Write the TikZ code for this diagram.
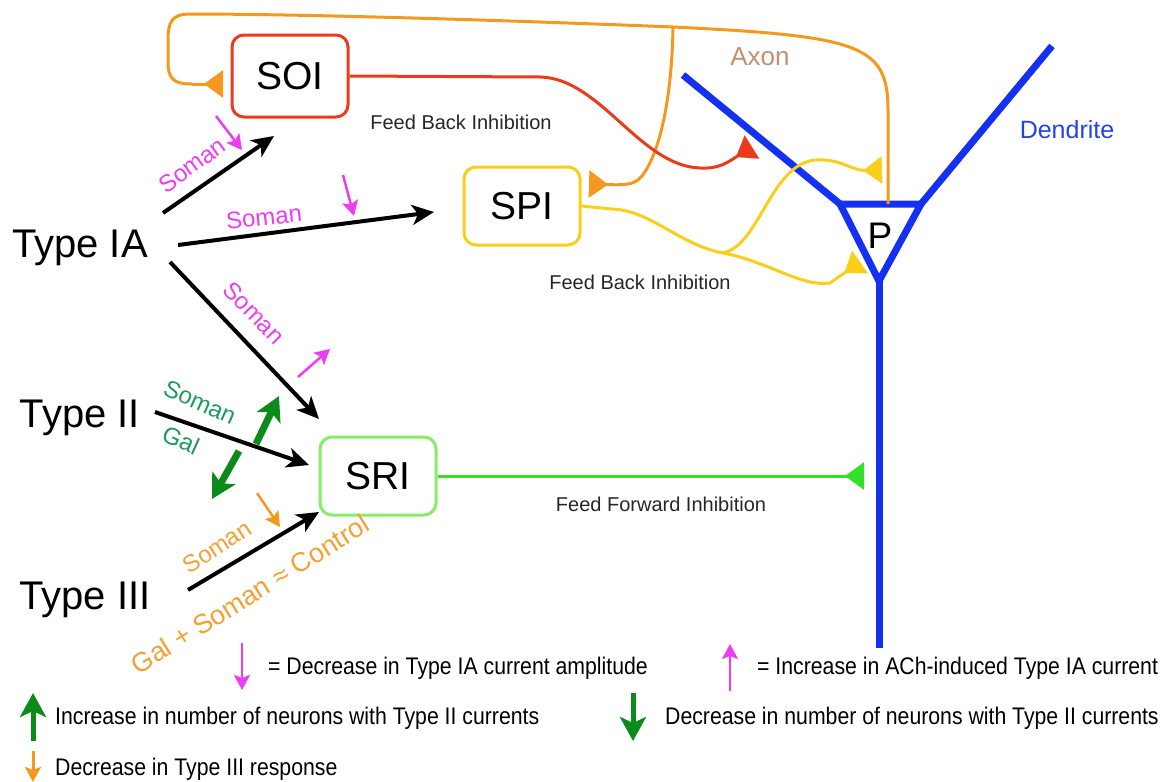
\documentclass[tikz,border=0pt]{standalone}
\usepackage{fontspec}
\setmainfont{Liberation Sans}
\newfontfamily\narrowfont[FakeStretch=0.885]{Liberation Sans}
\usetikzlibrary{arrows.meta}
\definecolor{cred}{HTML}{EB3A1C}
\definecolor{corange}{HTML}{F4981E}
\definecolor{cyellow}{HTML}{F9CF1A}
\definecolor{cgreenline}{HTML}{33E02A}
\definecolor{csrib}{HTML}{86EE64}
\definecolor{cblue}{HTML}{1430F0}
\definecolor{cpink}{HTML}{F03CF0}
\definecolor{cdgreen}{HTML}{0C8A1A}
\definecolor{ctgreen}{HTML}{1E9A5C}
\definecolor{cotext}{HTML}{F5A035}
\definecolor{caxon}{HTML}{C09070}
\definecolor{cdend}{HTML}{2244E6}
\begin{document}
\begin{tikzpicture}[x=1pt,y=-1pt,
  cellbox/.style={draw,line width=3pt,rounded corners=12pt,fill=white,inner sep=0pt},
  bigtext/.style={font=\fontsize{40}{44}\selectfont},
  boxtext/.style={font=\fontsize{39}{44}\selectfont},
  blackarrow/.style={line width=4pt,-{Stealth[length=22pt,width=20pt,inset=6pt]}},
  pinkarrow/.style={cpink,line width=2.5pt,-{Stealth[length=15pt,width=16pt,inset=3pt]}},
  orangearrow/.style={corange,line width=2.5pt,-{Stealth[length=15pt,width=16pt,inset=3pt]}},
  greenarrow/.style={cdgreen,line width=7pt,-{Stealth[length=24pt,width=26pt,inset=6pt]}},
  inhib/.style={line width=3pt,-{Triangle[reversed,length=19pt,width=27pt]}},
  dend/.style={cblue,line width=7pt},
  lbl/.style={font=\fontsize{24}{28}\selectfont},
  fb/.style={font=\fontsize{20}{24}\selectfont,text=black!85},
  leg/.style={font=\narrowfont\fontsize{24}{27}\selectfont,anchor=west,inner sep=0pt}]
\useasboundingbox (0,0) rectangle (1168,782);
% P neuron
\coordinate (Ptl) at (840,204);
\coordinate (Ptr) at (921,204);
\coordinate (Pb) at (879,281);
\coordinate (dl) at (683,75);
\coordinate (dr) at (1052,46);
\coordinate (ax) at (879,648);
\draw[dend] (dl) -- (Ptl);
\draw[dend] (dr) -- (Ptr);
\draw[dend] (Pb) -- (ax);
\draw[dend,line join=miter] (Ptl) -- (Ptr) -- (Pb) -- cycle;
\node[font=\fontsize{37}{42}\selectfont] (P) at (880,236) {P};
% boxes
\node[cellbox,draw=cred,minimum width=116pt,minimum height=82pt] (SOI) at (290,76) {};
\node[boxtext] at (SOI) {SOI};
\node[cellbox,draw=cyellow,minimum width=116pt,minimum height=78pt] (SPI) at (522,206) {};
\node[boxtext] at (SPI) {SPI};
\node[cellbox,draw=csrib,minimum width=116pt,minimum height=78pt] (SRI) at (378,476) {};
\node[boxtext] at (SRI) {SRI};
% type labels
\node[bigtext] (IA) at (80,248) {Type IA};
\node[bigtext] (II) at (80,418) {Type II};
\node[bigtext] (III) at (85,600) {Type III};
% black arrows
\coordinate (a1s) at (163,213); \coordinate (a1e) at (274,136);
\coordinate (a2s) at (178,245); \coordinate (a2e) at (434,212);
\coordinate (a3s) at (170,262); \coordinate (a3e) at (319,419);
\coordinate (a4s) at (155,412); \coordinate (a4e) at (309,465);
\coordinate (a5s) at (188,590); \coordinate (a5e) at (319,512);
\draw[blackarrow] (a1s) -- (a1e);
\draw[blackarrow] (a2s) -- (a2e);
\draw[blackarrow] (a3s) -- (a3e);
\draw[blackarrow] (a4s) -- (a4e);
\draw[blackarrow] (a5s) -- (a5e);
% pink labels and arrows
\node[lbl,text=cpink,rotate=36] (s1) at (192,165) {Soman};
\node[lbl,text=cpink,rotate=6] (s2) at (264,217) {Soman};
\node[lbl,text=cpink,rotate=-46] (s3) at (254,313) {Soman};
\coordinate (p1s) at (216,116); \coordinate (p1e) at (242,150);
\coordinate (p2s) at (343,175); \coordinate (p2e) at (354,216);
\coordinate (p3s) at (298,377); \coordinate (p3e) at (330,349);
\draw[pinkarrow] (p1s) -- (p1e);
\draw[pinkarrow] (p2s) -- (p2e);
\draw[pinkarrow] (p3s) -- (p3e);
% green labels and arrows
\node[lbl,text=ctgreen,rotate=-24] (g1) at (200,402) {Soman};
\node[lbl,text=ctgreen,rotate=-24] (g2) at (181,440) {Gal};
\coordinate (gu1) at (256,444); \coordinate (gu2) at (279,396);
\coordinate (gd1) at (239,451); \coordinate (gd2) at (212,499);
\draw[greenarrow] (gu1) -- (gu2);
\draw[greenarrow] (gd1) -- (gd2);
% orange labels and arrow
\coordinate (o1s) at (257,493); \coordinate (o1e) at (280,527);
\draw[orangearrow] (o1s) -- (o1e);
\node[lbl,text=cotext,rotate=33] (os) at (217,547) {Soman};
\node[font=\fontsize{27}{30}\selectfont,text=cotext,rotate=32] (oc) at (250,594) {Gal + Soman ≈ Control};
% feedback lines
\coordinate (soiin) at (223,84);
\coordinate (ptop) at (888,204);
\coordinate (br) at (673,27);
\coordinate (spiin) at (589,184);
\draw[corange,line width=3pt] (ptop) -- (888,110) .. controls (888,45) and (860,36) .. (br) .. controls (500,20) and (300,14) .. (190,14) .. controls (172,14) and (168,22) .. (168,40) -- (168,62) .. controls (168,80) and (175,84) .. (192,84);
\draw[corange,inhib] (192,84) -- (soiin);
\draw[corange,inhib] (br) .. controls (672,90) and (662,150) .. (642,176) .. controls (634,186) and (622,185) .. (spiin);
\coordinate (redend) at (752,147);
\draw[cred,inhib] (SOI.east) -- (540,77) .. controls (600,78) and (640,166) .. (700,168) .. controls (720,169) and (728,162) .. (redend);
\coordinate (split) at (723,253);
\coordinate (y1) at (860,262);
\coordinate (y2) at (882,170);
\draw[cyellow,line width=3pt] (SPI.east) -- (612,209) .. controls (650,210) and (680,245) .. (split);
\draw[cyellow,inhib] (split) .. controls (770,262) and (800,287) .. (830,283) -- (y1);
\draw[cyellow,inhib] (split) .. controls (760,245) and (770,165) .. (815,160) .. controls (840,158) and (852,171) .. (y2);
\coordinate (gend) at (864,476);
\draw[cgreenline,inhib] (SRI.east) -- (gend);
% inhibition labels
\node[fb] (fb1) at (461,122) {Feed Back Inhibition};
\node[fb] (fb2) at (640,282) {Feed Back Inhibition};
\node[fb] (ff) at (661,504) {Feed Forward Inhibition};
\node[font=\fontsize{26}{30}\selectfont,text=caxon] (axon) at (760,57) {Axon};
\node[font=\fontsize{25}{30}\selectfont,text=cdend] (dendrite) at (1067,130) {Dendrite};
% legend
\coordinate (l1a) at (242,643); \coordinate (l1b) at (242,690);
\draw[pinkarrow] (l1a) -- (l1b);
\node[leg] (t1) at (268,668) {= Decrease in Type IA current amplitude};
\coordinate (l2a) at (730,691); \coordinate (l2b) at (730,644);
\draw[pinkarrow] (l2a) -- (l2b);
\node[leg] (t2) at (757,668) {= Increase in ACh-induced Type IA current};
\coordinate (l3a) at (33,741); \coordinate (l3b) at (33,693);
\draw[greenarrow,line width=5pt] (l3a) -- (l3b);
\node[leg] (t3) at (55,718) {Increase in number of neurons with Type II currents};
\coordinate (l4a) at (633,693); \coordinate (l4b) at (633,741);
\draw[greenarrow,line width=5pt] (l4a) -- (l4b);
\node[leg] (t4) at (665,718) {Decrease in number of neurons with Type II currents};
\coordinate (l5a) at (33,751); \coordinate (l5b) at (33,782);
\draw[orangearrow,line width=3pt] (l5a) -- (l5b);
\node[leg] (t5) at (55,769) {Decrease in Type III response};
\end{tikzpicture}
\end{document}
